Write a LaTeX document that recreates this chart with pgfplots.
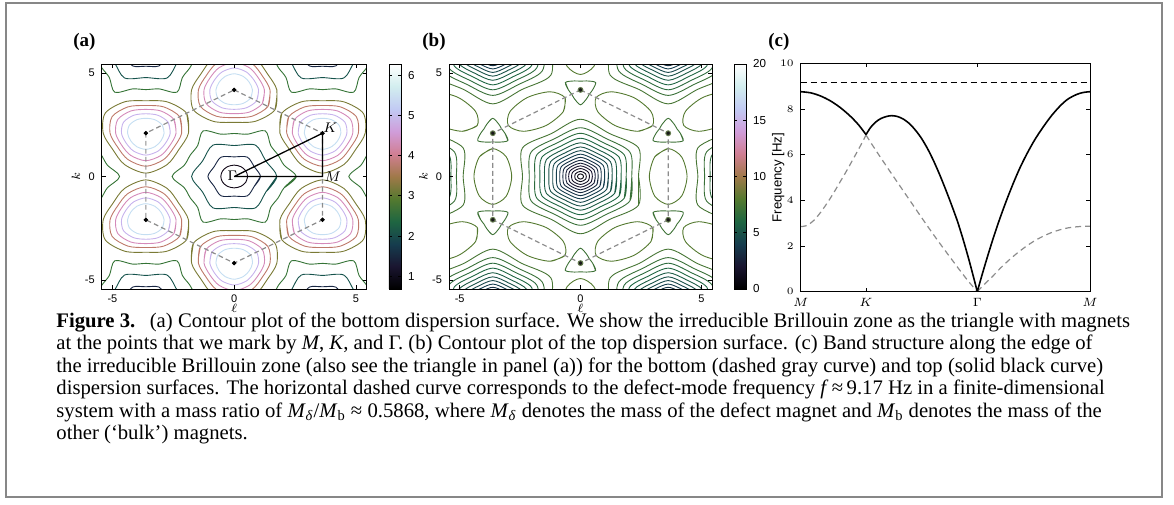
\documentclass[border=0pt]{standalone}
\usepackage{fontspec}
\setmainfont{Liberation Serif}
\newfontfamily\hv{Liberation Sans}
\usepackage{pgfplots}
\pgfplotsset{compat=1.18}
\usepgfplotslibrary{polar}

% cubehelix stops
\definecolor{ch0}{rgb}{0,0,0}
\definecolor{ch1}{rgb}{0.102,0.083,0.188}
\definecolor{ch2}{rgb}{0.086,0.238,0.306}
\definecolor{ch3}{rgb}{0.120,0.400,0.257}
\definecolor{ch4}{rgb}{0.329,0.476,0.184}
\definecolor{ch5}{rgb}{0.628,0.475,0.286}
% contour colours, panel (a)
\definecolor{a1}{rgb}{0.070,0.032,0.089}
\definecolor{a2}{rgb}{0.100,0.153,0.267}
\definecolor{a3}{rgb}{0.085,0.325,0.298}
\definecolor{a4}{rgb}{0.203,0.451,0.209}
\definecolor{a5}{rgb}{0.480,0.480,0.206}
\definecolor{a6}{rgb}{0.745,0.476,0.417}
\definecolor{a7}{rgb}{0.833,0.542,0.730}
\definecolor{a8}{rgb}{0.780,0.702,0.929}
\definecolor{a9}{rgb}{0.771,0.872,0.948}
% contour colours, panel (b)
\colorlet{b1}{ch1!25!ch0}
\colorlet{b2}{ch1!50!ch0}
\colorlet{b3}{ch1!75!ch0}
\colorlet{b4}{ch1}
\colorlet{b5}{ch2!25!ch1}
\colorlet{b6}{ch2!50!ch1}
\colorlet{b7}{ch2!75!ch1}
\colorlet{b8}{ch2}
\colorlet{b9}{ch3!25!ch2}
\colorlet{b10}{ch3!50!ch2}
\colorlet{b11}{ch3!75!ch2}
\colorlet{b12}{ch3}
\colorlet{b13}{ch4!25!ch3}
\colorlet{b14}{ch4!50!ch3}
\colorlet{b15}{ch4!75!ch3}
\colorlet{bt}{ch4!60!ch3}
\colorlet{bo}{ch4}

\pgfplotsset{
  colormap={cubehelix}{rgb=(0,0,0) rgb=(0.102,0.083,0.188) rgb=(0.086,0.238,0.306) rgb=(0.120,0.400,0.257) rgb=(0.329,0.476,0.184) rgb=(0.628,0.475,0.286) rgb=(0.815,0.496,0.575) rgb=(0.814,0.614,0.854) rgb=(0.759,0.792,0.954) rgb=(0.824,0.932,0.936) rgb=(1,1,1)},
  panel/.style={scale only axis, axis on top, axis line style={line width=0.4pt},
    tick align=inside, major tick length=2pt, tick style={line width=0.35pt, black},
    ticklabel style={font=\hv\fontsize{5.5}{6}\selectfont},
    label style={font=\fontsize{6}{7}\selectfont}},
  cbs/.style={scale only axis, width=6pt, at={(parent axis.south east)}, anchor=south west,
    tick align=inside, major tick length=1.5pt, tick style={line width=0.3pt, black},
    axis line style={line width=0.4pt},
    yticklabel style={font=\hv\fontsize{5.8}{6}\selectfont}},
  hexa/.style={panel, height=112.5pt,
    xmin=-5.441, xmax=5.441, ymin=-5.441, ymax=5.441,
    xtick={-5,0,5}, ytick={-5,0,5}, xticklabels={-5,0,5}, yticklabels={-5,0,5},
    xticklabel style={yshift=0.8pt},
    xlabel={$\ell$}, ylabel={$k$},
    xlabel style={at={(axis description cs:0.5,-0.084)}, anchor=center},
    ylabel style={at={(axis description cs:-0.097,0.5)}, anchor=center},
    colormap name=cubehelix, colorbar},
  ct/.style={smooth, tension=0.5, line width=0.45pt, forget plot},
  bz/.style={black!45, line width=0.6pt, dash pattern=on 2.4pt off 1.6pt, forget plot},
}

\begin{document}
\begin{tikzpicture}
\useasboundingbox (0pt,0pt) rectangle (587pt,252pt);
\draw[line width=1.3pt, black!47] (3pt,3.5pt) rectangle (581pt,250.5pt);

\node[anchor=west, inner sep=0, font=\bfseries\fontsize{9.5}{10}\selectfont] at (36.5pt,231pt) {(a)};
\node[anchor=west, inner sep=0, font=\bfseries\fontsize{9.5}{10}\selectfont] at (211pt,231pt) {(b)};
\node[anchor=west, inner sep=0, font=\bfseries\fontsize{9.5}{10}\selectfont] at (384pt,231pt) {(c)};

% ---------------- (a) bottom surface ----------------
\begin{axis}[hexa, at={(50.85pt,107.5pt)}, anchor=south west, width=132.5pt,
  point meta min=0.68, point meta max=6.28,
  colorbar style={cbs, xshift=2.6pt, ytick={1,2,3,4,5,6}, yticklabels={1,2,3,4,5,6}}]
% around Gamma
\addplot[ct,a1,data cs=polar] coordinates {(-30,0.55)(0,0.55)(30,0.55)(60,0.55)(90,0.55)(120,0.55)(150,0.55)(180,0.55)(210,0.55)(240,0.55)(270,0.55)(300,0.55)(330,0.55)(360,0.55)};
\addplot[ct,a2,data cs=polar] coordinates {(-30,0.95)(0,1.08)(30,0.95)(60,1.08)(90,0.95)(120,1.08)(150,0.95)(180,1.08)(210,0.95)(240,1.08)(270,0.95)(300,1.08)(330,0.95)(360,1.08)};
\addplot[ct,a3,data cs=polar] coordinates {(-30,1.5)(0,1.75)(30,1.5)(60,1.75)(90,1.5)(120,1.75)(150,1.5)(180,1.75)(210,1.5)(240,1.75)(270,1.5)(300,1.75)(330,1.5)(360,1.75)};
\addplot[ct,a4,data cs=polar] coordinates {(-15,2.12)(0,2.55)(15,2.12)(30,2.08)(45,2.12)(60,2.55)(75,2.12)(90,2.08)(105,2.12)(120,2.55)(135,2.12)(150,2.08)(165,2.12)(180,2.55)(195,2.12)(210,2.08)(225,2.12)(240,2.55)(255,2.12)(270,2.08)(285,2.12)(300,2.55)(315,2.12)(330,2.08)(345,2.12)(360,2.55)};
% neighbouring Gamma points
\addplot[ct,a4] coordinates {(1.58,6.832)(1.078,6.283)(1.58,5.734)(1.827,5.243)(2.129,4.784)(2.353,4.075)(3.079,4.235)(3.628,4.203)(4.177,4.235)(4.903,4.075)(5.127,4.784)(5.429,5.243)(5.676,5.734)(6.178,6.283)(5.676,6.832)};
\addplot[ct,a4] coordinates {(-1.58,6.832)(-1.078,6.283)(-1.58,5.734)(-1.827,5.243)(-2.129,4.784)(-2.353,4.075)(-3.079,4.235)(-3.628,4.203)(-4.177,4.235)(-4.903,4.075)(-5.127,4.784)(-5.429,5.243)(-5.676,5.734)(-6.178,6.283)(-5.676,6.832)};
\addplot[ct,a4] coordinates {(1.58,-6.832)(1.078,-6.283)(1.58,-5.734)(1.827,-5.243)(2.129,-4.784)(2.353,-4.075)(3.079,-4.235)(3.628,-4.203)(4.177,-4.235)(4.903,-4.075)(5.127,-4.784)(5.429,-5.243)(5.676,-5.734)(6.178,-6.283)(5.676,-6.832)};
\addplot[ct,a4] coordinates {(-1.58,-6.832)(-1.078,-6.283)(-1.58,-5.734)(-1.827,-5.243)(-2.129,-4.784)(-2.353,-4.075)(-3.079,-4.235)(-3.628,-4.203)(-4.177,-4.235)(-4.903,-4.075)(-5.127,-4.784)(-5.429,-5.243)(-5.676,-5.734)(-6.178,-6.283)(-5.676,-6.832)};
\addplot[ct,a4] coordinates {(5.756,1.499)(5.454,1.04)(5.207,0.549)(4.705,0)(5.207,-0.549)(5.454,-1.04)(5.756,-1.499)};
\addplot[ct,a4] coordinates {(-5.756,1.499)(-5.454,1.04)(-5.207,0.549)(-4.705,0)(-5.207,-0.549)(-5.454,-1.04)(-5.756,-1.499)};
\addplot[ct,a3] coordinates {(2.329,7.033)(1.878,6.283)(2.329,5.533)(2.753,4.767)(3.628,4.783)(4.503,4.767)(4.927,5.533)(5.378,6.283)(4.927,7.033)};
\addplot[ct,a3] coordinates {(-2.329,7.033)(-1.878,6.283)(-2.329,5.533)(-2.753,4.767)(-3.628,4.783)(-4.503,4.767)(-4.927,5.533)(-5.378,6.283)(-4.927,7.033)};
\addplot[ct,a3] coordinates {(2.329,-7.033)(1.878,-6.283)(2.329,-5.533)(2.753,-4.767)(3.628,-4.783)(4.503,-4.767)(4.927,-5.533)(5.378,-6.283)(4.927,-7.033)};
\addplot[ct,a3] coordinates {(-2.329,-7.033)(-1.878,-6.283)(-2.329,-5.533)(-2.753,-4.767)(-3.628,-4.783)(-4.503,-4.767)(-4.927,-5.533)(-5.378,-6.283)(-4.927,-7.033)};
\addplot[ct,a2] coordinates {(2.548,6.283)(2.805,5.808)(3.088,5.348)(3.628,5.333)(4.168,5.348)(4.451,5.808)(4.708,6.283)};
\addplot[ct,a2] coordinates {(-2.548,6.283)(-2.805,5.808)(-3.088,5.348)(-3.628,5.333)(-4.168,5.348)(-4.451,5.808)(-4.708,6.283)};
\addplot[ct,a2] coordinates {(2.548,-6.283)(2.805,-5.808)(3.088,-5.348)(3.628,-5.333)(4.168,-5.348)(4.451,-5.808)(4.708,-6.283)};
\addplot[ct,a2] coordinates {(-2.548,-6.283)(-2.805,-5.808)(-3.088,-5.348)(-3.628,-5.333)(-4.168,-5.348)(-4.451,-5.808)(-4.708,-6.283)};
% around the K points, level 5 (olive)
\addplot[ct,a5] coordinates {(1.671,3.224)(1.75,4.189)(1.36,4.974)(0.875,5.705)(0,6.119)(-0.875,5.705)(-1.36,4.974)(-1.75,4.189)(-1.671,3.224)(-0.875,2.673)(0,2.619)(0.875,2.673)(1.671,3.224)(1.75,4.189)};
\addplot[ct,a5] coordinates {(-1.671,-3.224)(-1.75,-4.189)(-1.36,-4.974)(-0.875,-5.705)(0,-6.119)(0.875,-5.705)(1.36,-4.974)(1.75,-4.189)(1.671,-3.224)(0.875,-2.673)(0,-2.619)(-0.875,-2.673)(-1.671,-3.224)(-1.75,-4.189)};
\addplot[ct,a5] coordinates {(-1.957,-3.059)(-1.878,-2.094)(-2.268,-1.309)(-2.753,-0.578)(-3.628,-0.164)(-4.503,-0.578)(-4.988,-1.309)(-5.378,-2.094)(-5.299,-3.059)(-4.503,-3.61)(-3.628,-3.664)(-2.753,-3.61)(-1.957,-3.059)(-1.878,-2.094)};
\addplot[ct,a5] coordinates {(1.957,-3.059)(1.878,-2.094)(2.268,-1.309)(2.753,-0.578)(3.628,-0.164)(4.503,-0.578)(4.988,-1.309)(5.378,-2.094)(5.299,-3.059)(4.503,-3.61)(3.628,-3.664)(2.753,-3.61)(1.957,-3.059)(1.878,-2.094)};
\addplot[ct,a5] coordinates {(1.957,3.059)(1.878,2.094)(2.268,1.309)(2.753,0.578)(3.628,0.164)(4.503,0.578)(4.988,1.309)(5.378,2.094)(5.299,3.059)(4.503,3.61)(3.628,3.664)(2.753,3.61)(1.957,3.059)(1.878,2.094)};
\addplot[ct,a5] coordinates {(-1.957,3.059)(-1.878,2.094)(-2.268,1.309)(-2.753,0.578)(-3.628,0.164)(-4.503,0.578)(-4.988,1.309)(-5.378,2.094)(-5.299,3.059)(-4.503,3.61)(-3.628,3.664)(-2.753,3.61)(-1.957,3.059)(-1.878,2.094)};
% level 6 (red)
\addplot[ct,a6] coordinates {(1.386,3.389)(1.47,4.189)(1.16,4.859)(0.735,5.462)(0,5.789)(-0.735,5.462)(-1.16,4.859)(-1.47,4.189)(-1.386,3.389)(-0.735,2.916)(0,2.849)(0.735,2.916)(1.386,3.389)(1.47,4.189)};
\addplot[ct,a6] coordinates {(-1.386,-3.389)(-1.47,-4.189)(-1.16,-4.859)(-0.735,-5.462)(0,-5.789)(0.735,-5.462)(1.16,-4.859)(1.47,-4.189)(1.386,-3.389)(0.735,-2.916)(0,-2.849)(-0.735,-2.916)(-1.386,-3.389)(-1.47,-4.189)};
\addplot[ct,a6] coordinates {(-2.242,-2.894)(-2.158,-2.094)(-2.468,-1.424)(-2.893,-0.821)(-3.628,-0.494)(-4.363,-0.821)(-4.788,-1.424)(-5.098,-2.094)(-5.014,-2.894)(-4.363,-3.367)(-3.628,-3.434)(-2.893,-3.367)(-2.242,-2.894)(-2.158,-2.094)};
\addplot[ct,a6] coordinates {(2.242,-2.894)(2.158,-2.094)(2.468,-1.424)(2.893,-0.821)(3.628,-0.494)(4.363,-0.821)(4.788,-1.424)(5.098,-2.094)(5.014,-2.894)(4.363,-3.367)(3.628,-3.434)(2.893,-3.367)(2.242,-2.894)(2.158,-2.094)};
\addplot[ct,a6] coordinates {(2.242,2.894)(2.158,2.094)(2.468,1.424)(2.893,0.821)(3.628,0.494)(4.363,0.821)(4.788,1.424)(5.098,2.094)(5.014,2.894)(4.363,3.367)(3.628,3.434)(2.893,3.367)(2.242,2.894)(2.158,2.094)};
\addplot[ct,a6] coordinates {(-2.242,2.894)(-2.158,2.094)(-2.468,1.424)(-2.893,0.821)(-3.628,0.494)(-4.363,0.821)(-4.788,1.424)(-5.098,2.094)(-5.014,2.894)(-4.363,3.367)(-3.628,3.434)(-2.893,3.367)(-2.242,2.894)(-2.158,2.094)};
% level 7 (pink)
\addplot[ct,a7] coordinates {(1.152,3.524)(1.24,4.189)(0.996,4.764)(0.62,5.263)(0,5.519)(-0.62,5.263)(-0.996,4.764)(-1.24,4.189)(-1.152,3.524)(-0.62,3.115)(0,3.039)(0.62,3.115)(1.152,3.524)(1.24,4.189)};
\addplot[ct,a7] coordinates {(-1.152,-3.524)(-1.24,-4.189)(-0.996,-4.764)(-0.62,-5.263)(0,-5.519)(0.62,-5.263)(0.996,-4.764)(1.24,-4.189)(1.152,-3.524)(0.62,-3.115)(0,-3.039)(-0.62,-3.115)(-1.152,-3.524)(-1.24,-4.189)};
\addplot[ct,a7] coordinates {(-2.476,-2.759)(-2.388,-2.094)(-2.632,-1.519)(-3.008,-1.02)(-3.628,-0.764)(-4.248,-1.02)(-4.624,-1.519)(-4.868,-2.094)(-4.78,-2.759)(-4.248,-3.168)(-3.628,-3.244)(-3.008,-3.168)(-2.476,-2.759)(-2.388,-2.094)};
\addplot[ct,a7] coordinates {(2.476,-2.759)(2.388,-2.094)(2.632,-1.519)(3.008,-1.02)(3.628,-0.764)(4.248,-1.02)(4.624,-1.519)(4.868,-2.094)(4.78,-2.759)(4.248,-3.168)(3.628,-3.244)(3.008,-3.168)(2.476,-2.759)(2.388,-2.094)};
\addplot[ct,a7] coordinates {(2.476,2.759)(2.388,2.094)(2.632,1.519)(3.008,1.02)(3.628,0.764)(4.248,1.02)(4.624,1.519)(4.868,2.094)(4.78,2.759)(4.248,3.168)(3.628,3.244)(3.008,3.168)(2.476,2.759)(2.388,2.094)};
\addplot[ct,a7] coordinates {(-2.476,2.759)(-2.388,2.094)(-2.632,1.519)(-3.008,1.02)(-3.628,0.764)(-4.248,1.02)(-4.624,1.519)(-4.868,2.094)(-4.78,2.759)(-4.248,3.168)(-3.628,3.244)(-3.008,3.168)(-2.476,2.759)(-2.388,2.094)};
% level 8 (lavender)
\addplot[ct,a8] coordinates {(0.918,3.659)(1.0,4.189)(0.814,4.659)(0.5,5.055)(0,5.249)(-0.5,5.055)(-0.814,4.659)(-1.0,4.189)(-0.918,3.659)(-0.5,3.323)(0,3.249)(0.5,3.323)(0.918,3.659)(1.0,4.189)};
\addplot[ct,a8] coordinates {(-0.918,-3.659)(-1.0,-4.189)(-0.814,-4.659)(-0.5,-5.055)(0,-5.249)(0.5,-5.055)(0.814,-4.659)(1.0,-4.189)(0.918,-3.659)(0.5,-3.323)(0,-3.249)(-0.5,-3.323)(-0.918,-3.659)(-1.0,-4.189)};
\addplot[ct,a8] coordinates {(-2.71,-2.624)(-2.628,-2.094)(-2.814,-1.624)(-3.128,-1.228)(-3.628,-1.034)(-4.128,-1.228)(-4.442,-1.624)(-4.628,-2.094)(-4.546,-2.624)(-4.128,-2.96)(-3.628,-3.034)(-3.128,-2.96)(-2.71,-2.624)(-2.628,-2.094)};
\addplot[ct,a8] coordinates {(2.71,-2.624)(2.628,-2.094)(2.814,-1.624)(3.128,-1.228)(3.628,-1.034)(4.128,-1.228)(4.442,-1.624)(4.628,-2.094)(4.546,-2.624)(4.128,-2.96)(3.628,-3.034)(3.128,-2.96)(2.71,-2.624)(2.628,-2.094)};
\addplot[ct,a8] coordinates {(2.71,2.624)(2.628,2.094)(2.814,1.624)(3.128,1.228)(3.628,1.034)(4.128,1.228)(4.442,1.624)(4.628,2.094)(4.546,2.624)(4.128,2.96)(3.628,3.034)(3.128,2.96)(2.71,2.624)(2.628,2.094)};
\addplot[ct,a8] coordinates {(-2.71,2.624)(-2.628,2.094)(-2.814,1.624)(-3.128,1.228)(-3.628,1.034)(-4.128,1.228)(-4.442,1.624)(-4.628,2.094)(-4.546,2.624)(-4.128,2.96)(-3.628,3.034)(-3.128,2.96)(-2.71,2.624)(-2.628,2.094)};
% level 9 (light cyan)
\addplot[ct,a9] coordinates {(0.675,3.799)(0.75,4.189)(0.624,4.549)(0.375,4.839)(0,4.969)(-0.375,4.839)(-0.624,4.549)(-0.75,4.189)(-0.675,3.799)(-0.375,3.539)(0,3.469)(0.375,3.539)(0.675,3.799)(0.75,4.189)};
\addplot[ct,a9] coordinates {(-0.675,-3.799)(-0.75,-4.189)(-0.624,-4.549)(-0.375,-4.839)(0,-4.969)(0.375,-4.839)(0.624,-4.549)(0.75,-4.189)(0.675,-3.799)(0.375,-3.539)(0,-3.469)(-0.375,-3.539)(-0.675,-3.799)(-0.75,-4.189)};
\addplot[ct,a9] coordinates {(-2.953,-2.484)(-2.878,-2.094)(-3.004,-1.734)(-3.253,-1.444)(-3.628,-1.314)(-4.003,-1.444)(-4.252,-1.734)(-4.378,-2.094)(-4.303,-2.484)(-4.003,-2.744)(-3.628,-2.814)(-3.253,-2.744)(-2.953,-2.484)(-2.878,-2.094)};
\addplot[ct,a9] coordinates {(2.953,-2.484)(2.878,-2.094)(3.004,-1.734)(3.253,-1.444)(3.628,-1.314)(4.003,-1.444)(4.252,-1.734)(4.378,-2.094)(4.303,-2.484)(4.003,-2.744)(3.628,-2.814)(3.253,-2.744)(2.953,-2.484)(2.878,-2.094)};
\addplot[ct,a9] coordinates {(2.953,2.484)(2.878,2.094)(3.004,1.734)(3.253,1.444)(3.628,1.314)(4.003,1.444)(4.252,1.734)(4.378,2.094)(4.303,2.484)(4.003,2.744)(3.628,2.814)(3.253,2.744)(2.953,2.484)(2.878,2.094)};
\addplot[ct,a9] coordinates {(-2.953,2.484)(-2.878,2.094)(-3.004,1.734)(-3.253,1.444)(-3.628,1.314)(-4.003,1.444)(-4.252,1.734)(-4.378,2.094)(-4.303,2.484)(-4.003,2.744)(-3.628,2.814)(-3.253,2.744)(-2.953,2.484)(-2.878,2.094)};
% Brillouin zone, path, magnets
\addplot[bz] coordinates {(0,4.189)(3.628,2.094)(3.628,-2.094)(0,-4.189)(-3.628,-2.094)(-3.628,2.094)(0,4.189)};
\addplot[black, line width=0.65pt, forget plot] coordinates {(0,0)(3.628,2.094)(3.628,0)(0,0)};
\addplot[only marks, mark=*, mark size=0.9pt, black, forget plot] coordinates {(0,4.189)(3.628,2.094)(3.628,-2.094)(0,-4.189)(-3.628,-2.094)(-3.628,2.094)};
\node[font=\fontsize{7}{8}\selectfont, inner sep=0] at (axis cs:-0.08,0.02) {$\Gamma$};
\node[font=\fontsize{7}{8}\selectfont, inner sep=0] at (axis cs:3.95,2.35) {$K$};
\node[font=\fontsize{7}{8}\selectfont, inner sep=0] at (axis cs:4.05,0) {$M$};
\end{axis}

% ---------------- (b) top surface ----------------
\begin{axis}[hexa, at={(224.5pt,107.5pt)}, anchor=south west, width=131.5pt,
  point meta min=0, point meta max=20,
  colorbar style={cbs, xshift=2.5pt, ytick={0,5,10,15,20}, yticklabels={0,5,10,15,20}}]
% around Gamma
\addplot[ct,b1,data cs=polar] coordinates {(-30,0.125)(0,0.12)(30,0.125)(60,0.12)(90,0.125)(120,0.12)(150,0.125)(180,0.12)(210,0.125)(240,0.12)(270,0.125)(300,0.12)(330,0.125)(360,0.12)};
\addplot[ct,b2,data cs=polar] coordinates {(-30,0.25)(0,0.24)(30,0.25)(60,0.24)(90,0.25)(120,0.24)(150,0.25)(180,0.24)(210,0.25)(240,0.24)(270,0.25)(300,0.24)(330,0.25)(360,0.24)};
\addplot[ct,b3,data cs=polar] coordinates {(-30,0.385)(0,0.37)(30,0.385)(60,0.37)(90,0.385)(120,0.37)(150,0.385)(180,0.37)(210,0.385)(240,0.37)(270,0.385)(300,0.37)(330,0.385)(360,0.37)};
\addplot[ct,b4,data cs=polar] coordinates {(-30,0.515)(0,0.49)(30,0.515)(60,0.49)(90,0.515)(120,0.49)(150,0.515)(180,0.49)(210,0.515)(240,0.49)(270,0.515)(300,0.49)(330,0.515)(360,0.49)};
\addplot[ct,b5,data cs=polar] coordinates {(-30,0.645)(0,0.61)(30,0.645)(60,0.61)(90,0.645)(120,0.61)(150,0.645)(180,0.61)(210,0.645)(240,0.61)(270,0.645)(300,0.61)(330,0.645)(360,0.61)};
\addplot[ct,b6,data cs=polar] coordinates {(-30,0.78)(0,0.73)(30,0.78)(60,0.73)(90,0.78)(120,0.73)(150,0.78)(180,0.73)(210,0.78)(240,0.73)(270,0.78)(300,0.73)(330,0.78)(360,0.73)};
\addplot[ct,b7,data cs=polar] coordinates {(-30,0.925)(0,0.86)(30,0.925)(60,0.86)(90,0.925)(120,0.86)(150,0.925)(180,0.86)(210,0.925)(240,0.86)(270,0.925)(300,0.86)(330,0.925)(360,0.86)};
\addplot[ct,b8,data cs=polar] coordinates {(-30,1.08)(0,1.00)(30,1.08)(60,1.00)(90,1.08)(120,1.00)(150,1.08)(180,1.00)(210,1.08)(240,1.00)(270,1.08)(300,1.00)(330,1.08)(360,1.00)};
\addplot[ct,b9,data cs=polar] coordinates {(-30,1.25)(0,1.15)(30,1.25)(60,1.15)(90,1.25)(120,1.15)(150,1.25)(180,1.15)(210,1.25)(240,1.15)(270,1.25)(300,1.15)(330,1.25)(360,1.15)};
\addplot[ct,b10,data cs=polar] coordinates {(-30,1.43)(0,1.31)(30,1.43)(60,1.31)(90,1.43)(120,1.31)(150,1.43)(180,1.31)(210,1.43)(240,1.31)(270,1.43)(300,1.31)(330,1.43)(360,1.31)};
\addplot[ct,b11,data cs=polar] coordinates {(-30,1.63)(0,1.49)(30,1.63)(60,1.49)(90,1.63)(120,1.49)(150,1.63)(180,1.49)(210,1.63)(240,1.49)(270,1.63)(300,1.49)(330,1.63)(360,1.49)};
\addplot[ct,b12,data cs=polar] coordinates {(-30,1.85)(0,1.68)(30,1.85)(60,1.68)(90,1.85)(120,1.68)(150,1.85)(180,1.68)(210,1.85)(240,1.68)(270,1.85)(300,1.68)(330,1.85)(360,1.68)};
\addplot[ct,b13,data cs=polar] coordinates {(-30,2.09)(0,1.89)(30,2.09)(60,1.89)(90,2.09)(120,1.89)(150,2.09)(180,1.89)(210,2.09)(240,1.89)(270,2.09)(300,1.89)(330,2.09)(360,1.89)};
\addplot[ct,b14,data cs=polar] coordinates {(-30,2.36)(0,2.12)(30,2.36)(60,2.12)(90,2.36)(120,2.12)(150,2.36)(180,2.12)(210,2.36)(240,2.12)(270,2.36)(300,2.12)(330,2.36)(360,2.12)};
\addplot[ct,b15,data cs=polar] coordinates {(-30,2.77)(0,2.40)(30,2.77)(60,2.40)(90,2.77)(120,2.40)(150,2.77)(180,2.40)(210,2.77)(240,2.40)(270,2.77)(300,2.40)(330,2.77)(360,2.40)};
% neighbouring Gamma points, top right
\addplot[ct,b7] coordinates {(2.827,6.746)(2.768,6.283)(2.827,5.821)(3.198,5.538)(3.628,5.358)(4.058,5.538)(4.429,5.821)(4.488,6.283)(4.429,6.746)};
\addplot[ct,b8] coordinates {(2.693,6.823)(2.628,6.283)(2.693,5.743)(3.128,5.417)(3.628,5.203)(4.128,5.417)(4.563,5.743)(4.628,6.283)(4.563,6.823)};
\addplot[ct,b9] coordinates {(2.545,6.908)(2.478,6.283)(2.545,5.658)(3.053,5.287)(3.628,5.033)(4.203,5.287)(4.711,5.658)(4.778,6.283)(4.711,6.908)};
\addplot[ct,b10] coordinates {(2.39,6.998)(2.318,6.283)(2.39,5.568)(2.973,5.149)(3.628,4.853)(4.283,5.149)(4.866,5.568)(4.938,6.283)(4.866,6.998)};
\addplot[ct,b11] coordinates {(2.216,7.098)(2.138,6.283)(2.216,5.468)(2.883,4.993)(3.628,4.653)(4.373,4.993)(5.04,5.468)(5.118,6.283)(5.04,7.098)};
\addplot[ct,b12] coordinates {(2.026,7.208)(1.948,6.283)(2.026,5.358)(2.788,4.828)(3.628,4.433)(4.468,4.828)(5.23,5.358)(5.308,6.283)(5.23,7.208)};
\addplot[ct,b13] coordinates {(1.818,7.328)(1.738,6.283)(1.818,5.238)(2.683,4.646)(3.628,4.193)(4.573,4.646)(5.438,5.238)(5.518,6.283)(5.438,7.328)};
\addplot[ct,b14] coordinates {(1.584,7.463)(1.508,6.283)(1.584,5.103)(2.568,4.447)(3.628,3.923)(4.688,4.447)(5.672,5.103)(5.748,6.283)(5.672,7.463)};
\addplot[ct,b15] coordinates {(1.229,7.668)(1.228,6.283)(1.229,4.898)(2.428,4.205)(3.628,3.513)(4.828,4.205)(6.027,4.898)(6.028,6.283)(6.027,7.668)};
% top left
\addplot[ct,b7] coordinates {(-2.827,6.746)(-2.768,6.283)(-2.827,5.821)(-3.198,5.538)(-3.628,5.358)(-4.058,5.538)(-4.429,5.821)(-4.488,6.283)(-4.429,6.746)};
\addplot[ct,b8] coordinates {(-2.693,6.823)(-2.628,6.283)(-2.693,5.743)(-3.128,5.417)(-3.628,5.203)(-4.128,5.417)(-4.563,5.743)(-4.628,6.283)(-4.563,6.823)};
\addplot[ct,b9] coordinates {(-2.545,6.908)(-2.478,6.283)(-2.545,5.658)(-3.053,5.287)(-3.628,5.033)(-4.203,5.287)(-4.711,5.658)(-4.778,6.283)(-4.711,6.908)};
\addplot[ct,b10] coordinates {(-2.39,6.998)(-2.318,6.283)(-2.39,5.568)(-2.973,5.149)(-3.628,4.853)(-4.283,5.149)(-4.866,5.568)(-4.938,6.283)(-4.866,6.998)};
\addplot[ct,b11] coordinates {(-2.216,7.098)(-2.138,6.283)(-2.216,5.468)(-2.883,4.993)(-3.628,4.653)(-4.373,4.993)(-5.04,5.468)(-5.118,6.283)(-5.04,7.098)};
\addplot[ct,b12] coordinates {(-2.026,7.208)(-1.948,6.283)(-2.026,5.358)(-2.788,4.828)(-3.628,4.433)(-4.468,4.828)(-5.23,5.358)(-5.308,6.283)(-5.23,7.208)};
\addplot[ct,b13] coordinates {(-1.818,7.328)(-1.738,6.283)(-1.818,5.238)(-2.683,4.646)(-3.628,4.193)(-4.573,4.646)(-5.438,5.238)(-5.518,6.283)(-5.438,7.328)};
\addplot[ct,b14] coordinates {(-1.584,7.463)(-1.508,6.283)(-1.584,5.103)(-2.568,4.447)(-3.628,3.923)(-4.688,4.447)(-5.672,5.103)(-5.748,6.283)(-5.672,7.463)};
\addplot[ct,b15] coordinates {(-1.229,7.668)(-1.228,6.283)(-1.229,4.898)(-2.428,4.205)(-3.628,3.513)(-4.828,4.205)(-6.027,4.898)(-6.028,6.283)(-6.027,7.668)};
% bottom right
\addplot[ct,b7] coordinates {(2.827,-6.746)(2.768,-6.283)(2.827,-5.821)(3.198,-5.538)(3.628,-5.358)(4.058,-5.538)(4.429,-5.821)(4.488,-6.283)(4.429,-6.746)};
\addplot[ct,b8] coordinates {(2.693,-6.823)(2.628,-6.283)(2.693,-5.743)(3.128,-5.417)(3.628,-5.203)(4.128,-5.417)(4.563,-5.743)(4.628,-6.283)(4.563,-6.823)};
\addplot[ct,b9] coordinates {(2.545,-6.908)(2.478,-6.283)(2.545,-5.658)(3.053,-5.287)(3.628,-5.033)(4.203,-5.287)(4.711,-5.658)(4.778,-6.283)(4.711,-6.908)};
\addplot[ct,b10] coordinates {(2.39,-6.998)(2.318,-6.283)(2.39,-5.568)(2.973,-5.149)(3.628,-4.853)(4.283,-5.149)(4.866,-5.568)(4.938,-6.283)(4.866,-6.998)};
\addplot[ct,b11] coordinates {(2.216,-7.098)(2.138,-6.283)(2.216,-5.468)(2.883,-4.993)(3.628,-4.653)(4.373,-4.993)(5.04,-5.468)(5.118,-6.283)(5.04,-7.098)};
\addplot[ct,b12] coordinates {(2.026,-7.208)(1.948,-6.283)(2.026,-5.358)(2.788,-4.828)(3.628,-4.433)(4.468,-4.828)(5.23,-5.358)(5.308,-6.283)(5.23,-7.208)};
\addplot[ct,b13] coordinates {(1.818,-7.328)(1.738,-6.283)(1.818,-5.238)(2.683,-4.646)(3.628,-4.193)(4.573,-4.646)(5.438,-5.238)(5.518,-6.283)(5.438,-7.328)};
\addplot[ct,b14] coordinates {(1.584,-7.463)(1.508,-6.283)(1.584,-5.103)(2.568,-4.447)(3.628,-3.923)(4.688,-4.447)(5.672,-5.103)(5.748,-6.283)(5.672,-7.463)};
\addplot[ct,b15] coordinates {(1.229,-7.668)(1.228,-6.283)(1.229,-4.898)(2.428,-4.205)(3.628,-3.513)(4.828,-4.205)(6.027,-4.898)(6.028,-6.283)(6.027,-7.668)};
% bottom left
\addplot[ct,b7] coordinates {(-2.827,-6.746)(-2.768,-6.283)(-2.827,-5.821)(-3.198,-5.538)(-3.628,-5.358)(-4.058,-5.538)(-4.429,-5.821)(-4.488,-6.283)(-4.429,-6.746)};
\addplot[ct,b8] coordinates {(-2.693,-6.823)(-2.628,-6.283)(-2.693,-5.743)(-3.128,-5.417)(-3.628,-5.203)(-4.128,-5.417)(-4.563,-5.743)(-4.628,-6.283)(-4.563,-6.823)};
\addplot[ct,b9] coordinates {(-2.545,-6.908)(-2.478,-6.283)(-2.545,-5.658)(-3.053,-5.287)(-3.628,-5.033)(-4.203,-5.287)(-4.711,-5.658)(-4.778,-6.283)(-4.711,-6.908)};
\addplot[ct,b10] coordinates {(-2.39,-6.998)(-2.318,-6.283)(-2.39,-5.568)(-2.973,-5.149)(-3.628,-4.853)(-4.283,-5.149)(-4.866,-5.568)(-4.938,-6.283)(-4.866,-6.998)};
\addplot[ct,b11] coordinates {(-2.216,-7.098)(-2.138,-6.283)(-2.216,-5.468)(-2.883,-4.993)(-3.628,-4.653)(-4.373,-4.993)(-5.04,-5.468)(-5.118,-6.283)(-5.04,-7.098)};
\addplot[ct,b12] coordinates {(-2.026,-7.208)(-1.948,-6.283)(-2.026,-5.358)(-2.788,-4.828)(-3.628,-4.433)(-4.468,-4.828)(-5.23,-5.358)(-5.308,-6.283)(-5.23,-7.208)};
\addplot[ct,b13] coordinates {(-1.818,-7.328)(-1.738,-6.283)(-1.818,-5.238)(-2.683,-4.646)(-3.628,-4.193)(-4.573,-4.646)(-5.438,-5.238)(-5.518,-6.283)(-5.438,-7.328)};
\addplot[ct,b14] coordinates {(-1.584,-7.463)(-1.508,-6.283)(-1.584,-5.103)(-2.568,-4.447)(-3.628,-3.923)(-4.688,-4.447)(-5.672,-5.103)(-5.748,-6.283)(-5.672,-7.463)};
\addplot[ct,b15] coordinates {(-1.229,-7.668)(-1.228,-6.283)(-1.229,-4.898)(-2.428,-4.205)(-3.628,-3.513)(-4.828,-4.205)(-6.027,-4.898)(-6.028,-6.283)(-6.027,-7.668)};
% left and right neighbours
\addplot[ct,b13] coordinates {(6.31,1.637)(5.445,1.045)(5.365,0)(5.445,-1.045)(6.31,-1.637)};
\addplot[ct,b14] coordinates {(6.195,1.836)(5.211,1.18)(5.135,0)(5.211,-1.18)(6.195,-1.836)};
\addplot[ct,b15] coordinates {(6.055,2.078)(4.856,1.385)(4.855,0)(4.856,-1.385)(6.055,-2.078)};
\addplot[ct,b13] coordinates {(-6.31,1.637)(-5.445,1.045)(-5.365,0)(-5.445,-1.045)(-6.31,-1.637)};
\addplot[ct,b14] coordinates {(-6.195,1.836)(-5.211,1.18)(-5.135,0)(-5.211,-1.18)(-6.195,-1.836)};
\addplot[ct,b15] coordinates {(-6.055,2.078)(-4.856,1.385)(-4.855,0)(-4.856,-1.385)(-6.055,-2.078)};
% ovals round the M points
\addplot[ct,bo] coordinates {(3.076,0.955)(3.628,1.35)(4.18,0.955)(4.408,0)(4.18,-0.955)(3.628,-1.35)(3.076,-0.955)(2.848,0)(3.076,0.955)(3.628,1.35)};
\addplot[ct,bo] coordinates {(-4.18,0.955)(-3.628,1.35)(-3.076,0.955)(-2.848,0)(-3.076,-0.955)(-3.628,-1.35)(-4.18,-0.955)(-4.408,0)(-4.18,0.955)(-3.628,1.35)};
\addplot[ct,bo] coordinates {(2.365,2.186)(2.983,2.467)(2.917,3.142)(2.204,3.817)(1.263,4.098)(0.645,3.817)(0.711,3.142)(1.424,2.467)(2.365,2.186)(2.983,2.467)};
\addplot[ct,bo] coordinates {(-0.711,3.142)(-0.645,3.817)(-1.263,4.098)(-2.204,3.817)(-2.917,3.142)(-2.983,2.467)(-2.365,2.186)(-1.424,2.467)(-0.711,3.142)(-0.645,3.817)};
\addplot[ct,bo] coordinates {(2.917,-3.142)(2.983,-2.467)(2.365,-2.186)(1.424,-2.467)(0.711,-3.142)(0.645,-3.817)(1.263,-4.098)(2.204,-3.817)(2.917,-3.142)(2.983,-2.467)};
\addplot[ct,bo] coordinates {(-1.263,-4.098)(-0.645,-3.817)(-0.711,-3.142)(-1.424,-2.467)(-2.365,-2.186)(-2.983,-2.467)(-2.917,-3.142)(-2.204,-3.817)(-1.263,-4.098)(-0.645,-3.817)};
\addplot[ct,bo] coordinates {(-0.552,7.238)(0,7.633)(0.552,7.238)(0.78,6.283)(0.552,5.328)(0,4.933)(-0.552,5.328)(-0.78,6.283)(-0.552,7.238)(0,7.633)};
\addplot[ct,bo] coordinates {(-0.552,-7.238)(0,-7.633)(0.552,-7.238)(0.78,-6.283)(0.552,-5.328)(0,-4.933)(-0.552,-5.328)(-0.78,-6.283)(-0.552,-7.238)(0,-7.633)};
\addplot[ct,bo] coordinates {(6.545,3.142)(6.611,3.817)(5.993,4.098)(5.052,3.817)(4.339,3.142)(4.273,2.467)(4.891,2.186)(5.832,2.467)(6.545,3.142)(6.611,3.817)};
\addplot[ct,bo] coordinates {(5.993,-4.098)(6.611,-3.817)(6.545,-3.142)(5.832,-2.467)(4.891,-2.186)(4.273,-2.467)(4.339,-3.142)(5.052,-3.817)(5.993,-4.098)(6.611,-3.817)};
\addplot[ct,bo] coordinates {(-4.891,2.186)(-4.273,2.467)(-4.339,3.142)(-5.052,3.817)(-5.993,4.098)(-6.611,3.817)(-6.545,3.142)(-5.832,2.467)(-4.891,2.186)(-4.273,2.467)};
\addplot[ct,bo] coordinates {(-4.339,-3.142)(-4.273,-2.467)(-4.891,-2.186)(-5.832,-2.467)(-6.545,-3.142)(-6.611,-3.817)(-5.993,-4.098)(-5.052,-3.817)(-4.339,-3.142)(-4.273,-2.467)};
% triangles round the K points
\addplot[ct,bt] coordinates {(4.252,1.734)(4.128,2.094)(3.992,2.304)(3.878,2.527)(3.628,2.814)(3.378,2.527)(3.264,2.304)(3.128,2.094)(3.004,1.734)(3.378,1.661)(3.628,1.674)(3.878,1.661)(4.252,1.734)(4.128,2.094)};
\addplot[ct,bt] coordinates {(-3.004,1.734)(-3.128,2.094)(-3.264,2.304)(-3.378,2.527)(-3.628,2.814)(-3.878,2.527)(-3.992,2.304)(-4.128,2.094)(-4.252,1.734)(-3.878,1.661)(-3.628,1.674)(-3.378,1.661)(-3.004,1.734)(-3.128,2.094)};
\addplot[ct,bt] coordinates {(0.624,-4.549)(0.5,-4.189)(0.364,-3.979)(0.25,-3.756)(0,-3.469)(-0.25,-3.756)(-0.364,-3.979)(-0.5,-4.189)(-0.624,-4.549)(-0.25,-4.622)(0,-4.609)(0.25,-4.622)(0.624,-4.549)(0.5,-4.189)};
\addplot[ct,bt] coordinates {(-0.624,4.549)(-0.5,4.189)(-0.364,3.979)(-0.25,3.756)(0,3.469)(0.25,3.756)(0.364,3.979)(0.5,4.189)(0.624,4.549)(0.25,4.622)(0,4.609)(-0.25,4.622)(-0.624,4.549)(-0.5,4.189)};
\addplot[ct,bt] coordinates {(-4.252,-1.734)(-4.128,-2.094)(-3.992,-2.304)(-3.878,-2.527)(-3.628,-2.814)(-3.378,-2.527)(-3.264,-2.304)(-3.128,-2.094)(-3.004,-1.734)(-3.378,-1.661)(-3.628,-1.674)(-3.878,-1.661)(-4.252,-1.734)(-4.128,-2.094)};
\addplot[ct,bt] coordinates {(3.004,-1.734)(3.128,-2.094)(3.264,-2.304)(3.378,-2.527)(3.628,-2.814)(3.878,-2.527)(3.992,-2.304)(4.128,-2.094)(4.252,-1.734)(3.878,-1.661)(3.628,-1.674)(3.378,-1.661)(3.004,-1.734)(3.128,-2.094)};
\addplot[bz] coordinates {(0,4.189)(3.628,2.094)(3.628,-2.094)(0,-4.189)(-3.628,-2.094)(-3.628,2.094)(0,4.189)};
\addplot[only marks, mark=*, mark size=1.2pt, forget plot, mark options={fill=black!90, draw=ch4!60!gray, line width=0.5pt}] coordinates {(0,4.189)(3.628,2.094)(3.628,-2.094)(0,-4.189)(-3.628,-2.094)(-3.628,2.094)};
\end{axis}

% ---------------- (c) band structure ----------------
\begin{axis}[panel, at={(400.35pt,106.2pt)}, anchor=south west, width=144.65pt, height=114.1pt,
  xmin=0, xmax=289.3, ymin=0, ymax=10,
  xtick={0,65.3,176.6,289.3}, xticklabels={$M$,$K$,$\Gamma$,$M$},
  ytick={0,2,4,6,8,10},
  xticklabel style={font=\fontsize{6}{7}\selectfont},
  ylabel={Frequency [Hz]},
  ylabel style={font=\hv\fontsize{6.6}{7}\selectfont, at={(axis description cs:-0.078,0.5)}, anchor=center}]
\addplot[black, line width=0.6pt, dash pattern=on 3pt off 2pt] coordinates {(0,9.17)(289.3,9.17)};
\addplot[black!45, line width=0.6pt, dash pattern=on 3pt off 2pt, smooth] coordinates {(0,2.85)(6,2.89)(12.6,3.1)(19,3.42)(26,3.85)(32.6,4.3)(39.3,4.8)(46,5.3)(52.6,5.82)(59,6.33)(65.3,6.86)};
\addplot[black!45, line width=0.6pt, dash pattern=on 3pt off 2pt, smooth] coordinates {(65.3,6.86)(72,6.4)(80,5.87)(90,5.22)(100,4.58)(110,3.94)(120,3.3)(130,2.67)(140,2.06)(150,1.47)(158,1.0)(165,0.6)(171,0.28)(176.6,0)};
\addplot[black!45, line width=0.6pt, dash pattern=on 3pt off 2pt, smooth] coordinates {(176.6,0)(184,0.33)(192.6,0.7)(200,1.04)(209.3,1.42)(218,1.74)(226,2.0)(234,2.23)(242.6,2.43)(251,2.59)(259.3,2.71)(267,2.79)(276,2.84)(283,2.86)(289.3,2.86)};
\addplot[black, line width=0.8pt, smooth] coordinates {(0,8.76)(10,8.71)(20,8.57)(30,8.35)(40,8.05)(50,7.67)(58,7.3)(65.3,6.88)};
\addplot[black, line width=0.8pt, smooth] coordinates {(65.3,6.88)(70,7.2)(75,7.43)(80,7.58)(85.5,7.67)(91,7.71)(97,7.67)(103,7.55)(109,7.35)(115,7.06)(121,6.7)(127,6.25)(133,5.72)(139,5.12)(145,4.47)(151,3.78)(157,3.05)(163,2.2)(169,1.27)(176.6,0)};
\addplot[black, line width=0.8pt, smooth] coordinates {(176.6,0)(181,0.68)(186,1.42)(192.6,2.35)(199.3,3.22)(206,4.02)(212.6,4.75)(219,5.4)(226,6.02)(234,6.65)(242.6,7.22)(251,7.72)(259.3,8.13)(267,8.43)(276,8.64)(283,8.73)(289.3,8.76)};
\end{axis}

% ---------------- caption ----------------
\begin{scope}[every node/.style={anchor=base west, inner sep=0, font=\fontsize{10.35}{12}\selectfont}]
\node at (28pt,88.25pt) {\textbf{Figure 3.}\hspace{0.7em}(a) Contour plot of the bottom dispersion surface. We show the irreducible Brillouin zone as the triangle with magnets};
\node at (28pt,77pt) {at the points that we mark by \textit{M}, \textit{K}, and Γ. (b) Contour plot of the top dispersion surface. (c) Band structure along the edge of};
\node at (28pt,65.75pt) {the irreducible Brillouin zone (also see the triangle in panel (a)) for the bottom (dashed gray curve) and top (solid black curve)};
\node at (28pt,54.5pt) {dispersion surfaces. The horizontal dashed curve corresponds to the defect-mode frequency \textit{f}\,≈\,9.17 Hz in a finite-dimensional};
\node at (28pt,43.25pt) {system with a mass ratio of \textit{M}\textsubscript{\textit{δ}}/\textit{M}\textsubscript{b} ≈ 0.5868, where \textit{M}\textsubscript{\textit{δ}} denotes the mass of the defect magnet and \textit{M}\textsubscript{b} denotes the mass of the};
\node at (28pt,32pt) {other (‘bulk’) magnets.};
\end{scope}
\end{tikzpicture}
\end{document}
